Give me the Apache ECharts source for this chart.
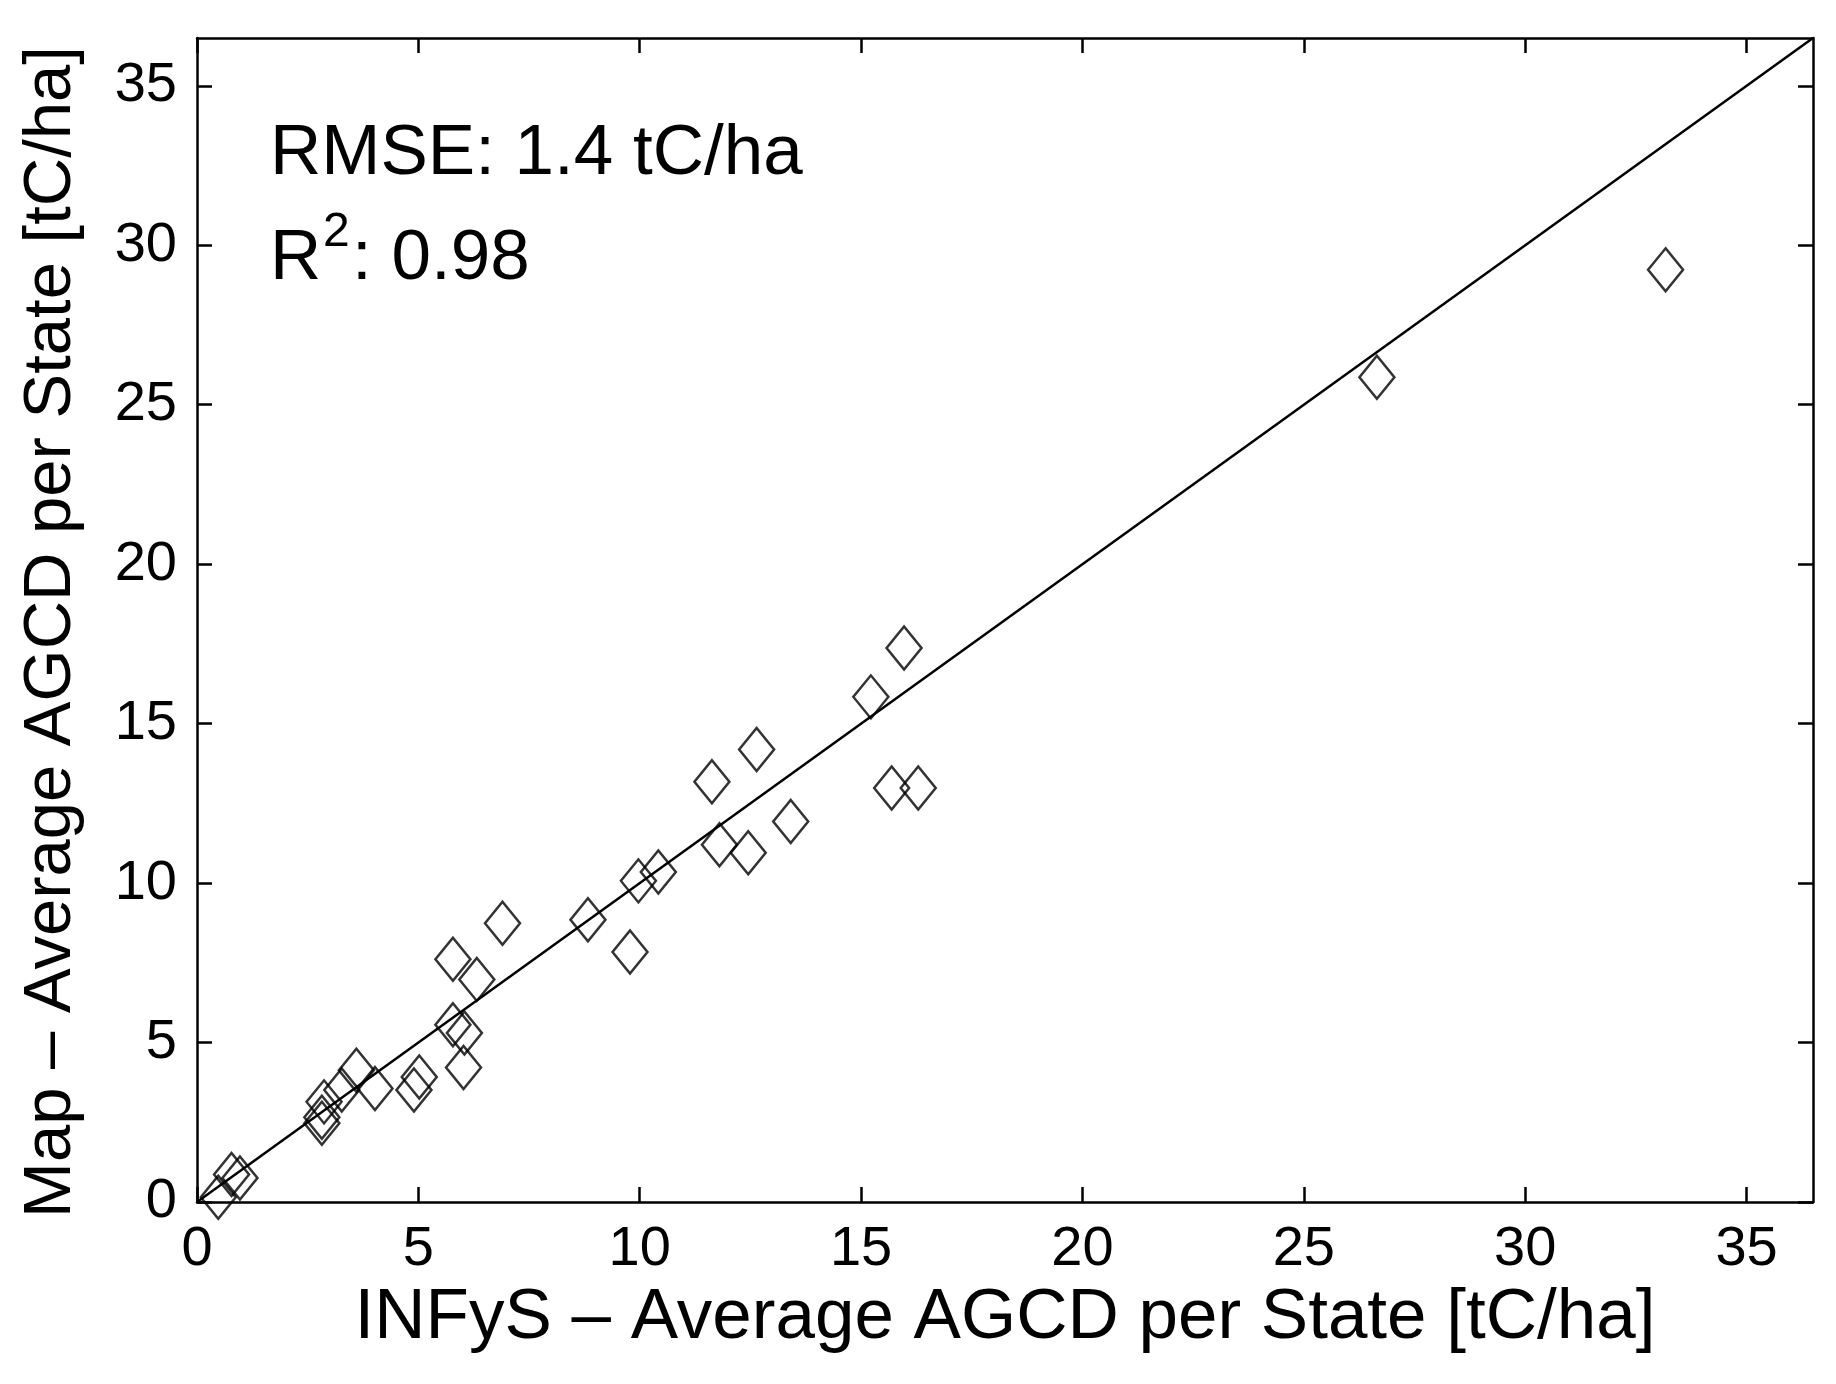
<!DOCTYPE html>
<html>
<head>
<meta charset="utf-8">
<script src="https://cdn.jsdelivr.net/npm/echarts@6/dist/echarts.min.js"></script>
<style>
  html, body { margin: 0; padding: 0; background: #fff; }
  #chart { width: 1836px; height: 1384px; }
</style>
</head>
<body>
<div id="chart"></div>
<script>
// values (tC/ha)
var infysAgcd = [0.48, 0.78, 0.97, 2.87, 2.82, 2.82, 3.27, 3.60, 4.02, 4.90, 5.02,
  6.02, 6.04, 5.78, 5.78, 6.32, 6.90, 8.83, 9.78, 9.97, 10.42, 11.80, 11.63, 12.64,
  12.45, 13.41, 15.22, 15.97, 15.69, 16.29, 26.65, 33.17];
var mapAgcd = [0.15, 0.86, 0.75, 3.14, 2.66, 2.47, 3.51, 4.13, 3.56, 3.51, 3.92,
  4.22, 5.30, 5.56, 7.61, 6.98, 8.74, 8.85, 7.84, 10.07, 10.35, 11.20, 13.18, 14.19,
  10.95, 11.93, 15.84, 17.37, 12.98, 12.98, 25.86, 29.23];
var tickValues = [0, 5, 10, 15, 20, 25, 30, 35];
var axisMax = 36.5;
var oneToOne = [0, 36.5];

var FONT = 'Liberation Sans, Arial, Helvetica, sans-serif';

var points = infysAgcd.map(function (x, i) { return [x, mapAgcd[i]]; });
var linePoints = oneToOne.map(function (v) { return [v, v]; });

function makeAxis(position, showLabels, name, nameSize) {
  return {
    type: 'value',
    position: position,
    min: 0,
    max: axisMax,
    axisLine: { show: true, onZero: false, lineStyle: { color: '#000', width: 2.5 } },
    axisTick: {
      show: true, inside: true, length: 15, customValues: tickValues,
      lineStyle: { color: '#000', width: 2.5 }
    },
    axisLabel: {
      show: showLabels, customValues: tickValues, margin: 20,
      color: '#000', fontSize: 56, fontFamily: FONT
    },
    splitLine: { show: false },
    name: name || '',
    nameLocation: 'middle',
    nameTextStyle: { color: '#000', fontSize: nameSize || 70, fontFamily: FONT }
  };
}

var xBottom = makeAxis('bottom', true, 'INFyS \u2013 Average AGCD per State [tC/ha]', 71);
xBottom.nameGap = 50;
var xTop = makeAxis('top', false);
var yLeft = makeAxis('left', true, 'Map \u2013 Average AGCD per State [tC/ha]', 67);
yLeft.nameGap = 112;
yLeft.nameTextStyle.padding = [0, 24, 0, 0];
var yRight = makeAxis('right', false);

var chart = echarts.init(document.getElementById('chart'));

var option = {
  backgroundColor: '#fff',
  animation: false,
  grid: { left: 197, right: 23, top: 38, bottom: 182, containLabel: false },
  xAxis: [xBottom, xTop],
  yAxis: [yLeft, yRight],
  series: [
    {
      type: 'line',
      xAxisIndex: 0,
      yAxisIndex: 0,
      data: linePoints,
      symbol: 'none',
      lineStyle: { color: '#000', width: 2.5 },
      z: 2
    },
    {
      type: 'scatter',
      xAxisIndex: 0,
      yAxisIndex: 0,
      data: points,
      symbol: 'diamond',
      symbolSize: [35, 43],
      itemStyle: { color: 'rgba(0,0,0,0)', borderColor: '#000', borderWidth: 2.5 },
      z: 3
    }
  ],
  graphic: [
    {
      type: 'text', left: 270, top: 119,
      style: { text: 'RMSE: 1.4 tC/ha', fill: '#000', fontSize: 71, fontFamily: FONT }
    },
    {
      type: 'text', left: 270, top: 224,
      style: { text: 'R', fill: '#000', fontSize: 71, fontFamily: FONT }
    },
    {
      type: 'text', left: 323, top: 209,
      style: { text: '2', fill: '#000', fontSize: 48, fontFamily: FONT }
    },
    {
      type: 'text', left: 352, top: 224,
      style: { text: ': 0.98', fill: '#000', fontSize: 71, fontFamily: FONT }
    }
  ]
};

chart.setOption(option);
</script>
</body>
</html>
